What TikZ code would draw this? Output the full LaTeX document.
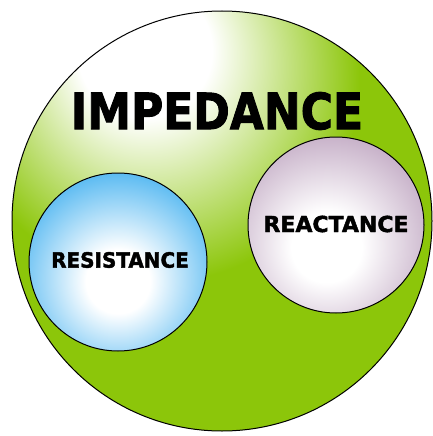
\documentclass[tikz,border=0pt]{standalone}
\usepackage{fontspec}
\setmainfont{DejaVu Sans}[BoldFeatures={FakeBold=2}]
\usepackage{tikz}
\usetikzlibrary{positioning}
\definecolor{impgreen}{RGB}{140,198,10}
\definecolor{resblue}{RGB}{70,178,240}
\definecolor{reamauve}{RGB}{184,156,186}
% shadings: 100bp box, centre offset towards the highlight
\pgfdeclareradialshading{greenball}{\pgfpoint{-10bp}{22bp}}{%
    color(0bp)=(white); color(8bp)=(white); color(24bp)=(impgreen); color(100bp)=(impgreen)}
\pgfdeclareradialshading{blueball}{\pgfpoint{0bp}{-6bp}}{%
    color(0bp)=(white); color(9bp)=(white); color(32bp)=(resblue); color(100bp)=(resblue)}
\pgfdeclareradialshading{mauveball}{\pgfpoint{-3bp}{-7bp}}{%
    color(0bp)=(white); color(10bp)=(white); color(36bp)=(reamauve); color(100bp)=(reamauve)}
\tikzset{
    every node/.style={inner sep=0pt},
    ball/.style={circle, draw=black, line width=1pt, shade},
    lbl/.style={font=\bfseries, text=black}
}
\begin{document}
\begin{tikzpicture}[x=1pt, y=-1pt]
    \useasboundingbox[fill=white] (0,0) rectangle (432,436);
    \node[ball, shading=greenball, minimum size=420pt] (imp) at (222,221) {};
    \node[ball, shading=blueball, minimum size=178pt] (res) at (118,262) {};
    \node[ball, shading=mauveball, minimum size=176pt] (rea) at (336,225) {};

    \node[lbl, font=\fontsize{50}{50}\selectfont\bfseries] (imptxt) at (217,111) {\scalebox{0.88}[1]{IMPEDANCE}};
    \node[lbl, font=\fontsize{21}{21}\selectfont\bfseries] (restxt) at (120,260) {\scalebox{0.95}[1]{RESISTANCE}};
    \node[lbl, font=\fontsize{22}{22}\selectfont\bfseries] (reatxt) at (336,224) {REACTANCE};
\end{tikzpicture}
\end{document}
